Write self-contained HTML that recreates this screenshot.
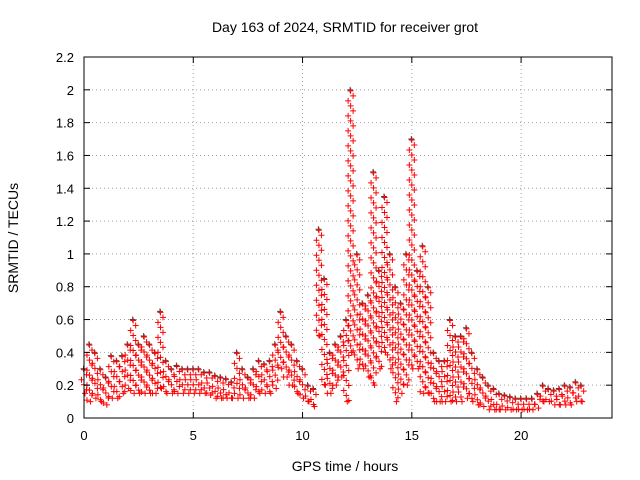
<!DOCTYPE html>
<html><head><meta charset="utf-8"><style>
body{margin:0;background:#fff;}
svg{display:block;font-family:"Liberation Sans",sans-serif;}
</style></head><body>
<svg id="chart" width="640" height="480">
<text x="345" y="32" text-anchor="middle" font-size="14">Day 163 of 2024, SRMTID for receiver grot</text>
<text x="345" y="471" text-anchor="middle" font-size="14">GPS time / hours</text>
<text transform="translate(18,238) rotate(-90)" text-anchor="middle" font-size="14">SRMTID / TECUs</text>
<g id="grid"></g><g id="marks"></g><g id="axes"></g>
</svg>
<script>
const times = [0,0.25,0.5,0.75,1,1.25,1.5,1.75,2,2.25,2.5,2.75,3,3.25,3.5,3.75,4,4.25,4.5,4.75,5,5.25,5.5,5.75,6,6.25,6.5,6.75,7,7.25,7.5,7.75,8,8.25,8.5,8.75,9,9.25,9.5,9.75,10,10.25,10.5,10.75,11,11.25,11.5,11.75,12,12.2,12.5,12.75,13,13.25,13.5,13.75,14,14.25,14.5,14.75,15,15.25,15.5,15.75,16,16.25,16.5,16.75,17,17.25,17.5,17.75,18,18.25,18.5,18.75,19,19.25,19.5,19.75,20,20.25,20.5,20.75,21,21.25,21.5,21.75,22,22.25,22.5,22.75];
const hiVals = [0.3,0.45,0.4,0.3,0.25,0.38,0.35,0.38,0.45,0.6,0.45,0.5,0.45,0.4,0.65,0.35,0.3,0.32,0.3,0.3,0.3,0.3,0.28,0.28,0.26,0.25,0.24,0.22,0.4,0.3,0.25,0.3,0.35,0.33,0.35,0.45,0.65,0.5,0.45,0.35,0.3,0.2,0.18,1.15,0.85,0.4,0.45,0.5,0.6,2.0,1.0,0.7,0.75,1.5,0.9,1.35,1.0,0.8,0.7,1.0,1.7,0.9,1.05,0.8,0.4,0.35,0.35,0.6,0.5,0.5,0.55,0.4,0.3,0.25,0.2,0.18,0.15,0.14,0.13,0.12,0.12,0.12,0.12,0.15,0.2,0.18,0.17,0.18,0.2,0.19,0.22,0.2];
const loVals = [0.15,0.1,0.12,0.1,0.08,0.12,0.12,0.15,0.18,0.15,0.15,0.15,0.15,0.15,0.18,0.15,0.15,0.15,0.15,0.15,0.15,0.15,0.15,0.14,0.12,0.12,0.12,0.12,0.12,0.12,0.12,0.12,0.15,0.15,0.15,0.18,0.3,0.25,0.2,0.15,0.12,0.1,0.07,0.5,0.2,0.15,0.2,0.25,0.1,0.4,0.3,0.3,0.25,0.2,0.3,0.4,0.3,0.1,0.15,0.2,0.3,0.3,0.15,0.15,0.1,0.1,0.1,0.1,0.1,0.1,0.12,0.1,0.08,0.07,0.05,0.05,0.05,0.05,0.05,0.05,0.05,0.05,0.05,0.06,0.1,0.1,0.08,0.08,0.08,0.08,0.1,0.1];
const xTicks = [0,5,10,15,20];
const yTicks = [0,0.2,0.4,0.6,0.8,1,1.2,1.4,1.6,1.8,2,2.2];

const L=84,R=612,T=57,B=418,XMAX=24.16,YMAX=2.2;
const xs=v=>L+(R-L)*v/XMAX, ys=v=>B-(B-T)*v/YMAX;
const NS="http://www.w3.org/2000/svg";
function mk(tag,attrs,parent){const e=document.createElementNS(NS,tag);for(const k in attrs)e.setAttribute(k,attrs[k]);parent.appendChild(e);return e;}
const grid=document.getElementById('grid'),axes=document.getElementById('axes'),marks=document.getElementById('marks');
mk('rect',{x:L,y:T,width:R-L,height:B-T,fill:'none',stroke:'#000','stroke-width':1},axes);
xTicks.forEach(v=>{const x=xs(v);
 if(v>0){const g=mk('line',{x1:x,x2:x,y1:T,y2:B,stroke:'#a0a0a0','stroke-dasharray':'1,3'},grid);
 
 }
 mk('line',{x1:x,x2:x,y1:B,y2:B-6,stroke:'#000'},axes);mk('line',{x1:x,x2:x,y1:T,y2:T+6,stroke:'#000'},axes);
 const t=mk('text',{x:x,y:B+22,'text-anchor':'middle','font-size':13},axes);t.textContent=v;
 
 });
yTicks.forEach(v=>{const y=ys(v);
 if(v>0&&v<2.2){const g=mk('line',{x1:L,x2:R,y1:y,y2:y,stroke:'#a0a0a0','stroke-dasharray':'1,3'},grid);
 
 }
 mk('line',{x1:L,x2:L+6,y1:y,y2:y,stroke:'#000'},axes);mk('line',{x1:R,x2:R-6,y1:y,y2:y,stroke:'#000'},axes);
 const t=mk('text',{x:L-10,y:y+5,'text-anchor':'end','font-size':13},axes);t.textContent=String(Math.round(v*10)/10);
 
 });
function cross(x,y,c){
 const p=mk('path',{d:`M${x-3},${y}h6M${x},${y-3}v6`,stroke:c,'stroke-width':1,fill:'none'},marks);
 
 }
times.forEach((t,i)=>{
 const x=xs(t),y1=ys(hiVals[i]),y0=ys(loVals[i]);
 cross(x-0.5,y1,'#444');
 let k=0;
 for(let y=y1+1;y<=y0;y+=5){k++;cross(x+((k%3)-1)*2.5,y,'red');}
 cross(x+1,y0,'red');
});
</script>
</body></html>
